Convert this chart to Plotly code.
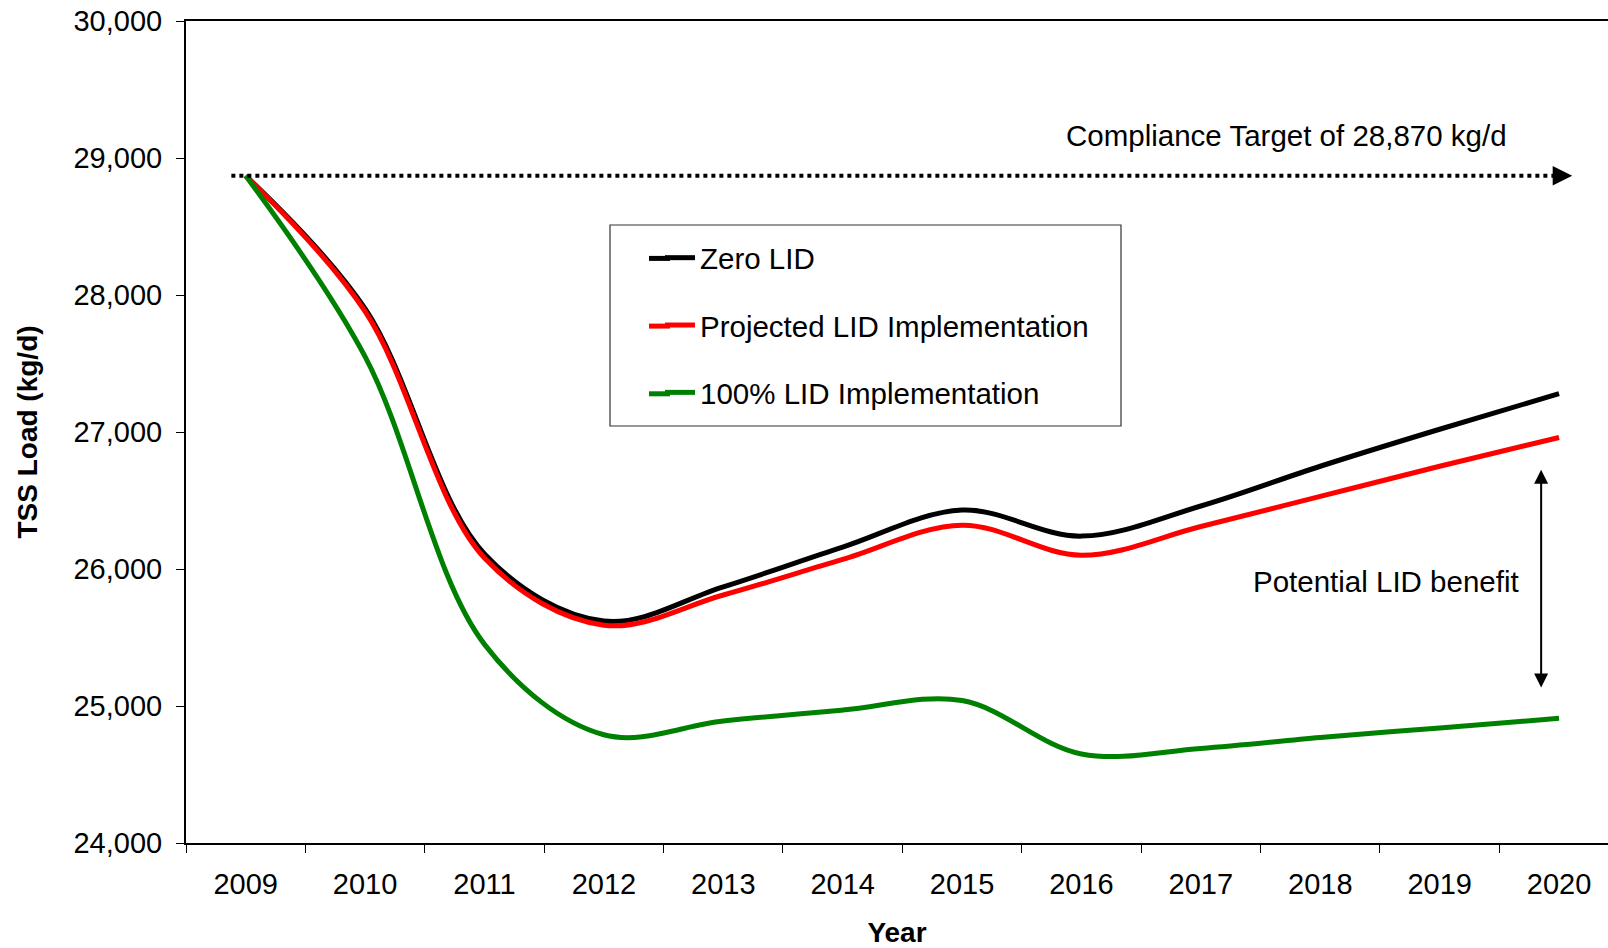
import plotly.graph_objects as go

# ---- data ----
years = [str(y) for y in range(2009, 2021)]
zero_lid = [28870, 27900, 26110, 25620, 25870, 26160, 26430, 26240, 26460, 26750, 27020, 27280]
projected_lid = [28870, 27880, 26080, 25590, 25810, 26070, 26320, 26100, 26310, 26530, 26750, 26960]
full_lid = [28870, 27550, 25450, 24790, 24890, 24970, 25040, 24650, 24690, 24770, 24840, 24910]
series_names = ["Zero LID", "Projected LID Implementation", "100% LID Implementation"]
series_colors = ["#000000", "#FF0000", "#008000"]
target = 28870
y_ticks = [24000, 25000, 26000, 27000, 28000, 29000, 30000]

FONT = "Liberation Sans, Arial, sans-serif"
TXT = 29.5
W, H = 1608, 948
L, T, B = 186, 21, 105
PW, PH = W - L, H - T - B


def px_x(sx):  # pixel x -> paper x
    return (sx - L) / PW


def px_y(sy):  # pixel y -> paper y
    return 1 - (sy - T) / PH


fig = go.Figure()

for name, vals, col in zip(series_names, [zero_lid, projected_lid, full_lid], series_colors):
    fig.add_trace(go.Scatter(
        x=years, y=vals, name=name, mode="lines",
        line=dict(color=col, width=5, shape="spline", smoothing=1),
        legendgroup=name,
    ))

# compliance target dotted line
fig.add_shape(type="line", xref="x", yref="y", x0=-0.12, x1=10.98, y0=target, y1=target,
              line=dict(color="black", width=4, dash="4px,4px"))
fig.add_annotation(x=11.11, y=target, ax=10.97, ay=target, axref="x", ayref="y",
                   xref="x", yref="y", showarrow=True, arrowhead=2, arrowsize=1.3,
                   arrowwidth=3, arrowcolor="black", text="")
fig.add_annotation(x=8.72, y=29164, xref="x", yref="y", text="Compliance Target of 28,870 kg/d",
                   showarrow=False, font=dict(family=FONT, size=TXT, color="black"))

# potential LID benefit
fig.add_annotation(x=10.85, y=26724, ax=10.85, ay=25124, axref="x", ayref="y",
                   xref="x", yref="y", showarrow=True, arrowhead=2, arrowside="end+start",
                   arrowsize=1.4, arrowwidth=2, arrowcolor="black", text="")
fig.add_annotation(x=9.55, y=25906, xref="x", yref="y", text="Potential LID benefit",
                   showarrow=False, font=dict(family=FONT, size=TXT, color="black"))

# legend box
fig.add_shape(type="rect", xref="paper", yref="paper",
              x0=px_x(610), x1=px_x(1121), y0=px_y(426), y1=px_y(225),
              line=dict(color="#333333", width=1.2), fillcolor="white", layer="below")
# longer legend line samples (extend plotly's short swatch to the left)
for col, ry in zip(series_colors, [258.4, 326.1, 393.8]):
    fig.add_shape(type="line", xref="paper", yref="paper",
                  x0=px_x(649), x1=px_x(670), y0=px_y(ry), y1=px_y(ry),
                  line=dict(color=col, width=5))

fig.update_layout(
    width=W, height=H,
    margin=dict(l=L, r=0, t=T, b=B, autoexpand=False),
    paper_bgcolor="white", plot_bgcolor="rgba(0,0,0,0)",
    font=dict(family=FONT, size=29, color="black"),
    showlegend=True,
    legend=dict(x=px_x(660), y=px_y(232), xanchor="left", yanchor="top",
                bgcolor="rgba(0,0,0,0)", borderwidth=0, tracegroupgap=26,
                font=dict(family=FONT, size=TXT, color="black"), itemwidth=30),
    xaxis=dict(type="category", range=[-0.5, 11.41], tickson="boundaries",
               ticks="outside", ticklen=8, tickwidth=1.2, tickcolor="black",
               showline=True, linewidth=2, linecolor="black", mirror=True,
               showgrid=False, zeroline=False, ticklabelstandoff=14, automargin=False,
               title=dict(text="<b>Year</b>", standoff=26,
                          font=dict(family=FONT, size=28, color="black"))),
    yaxis=dict(range=[24000, 30000], tickvals=y_ticks, tickformat=",d",
               ticks="outside", ticklen=8, tickwidth=1.2, tickcolor="black",
               showline=True, linewidth=2, linecolor="black", automargin=False,
               showgrid=False, zeroline=False, ticklabelstandoff=8,
               title=dict(text="<b>TSS Load (kg/d)</b>", standoff=28,
                          font=dict(family=FONT, size=28, color="black"))),
)

fig.write_html("out.html", config={"displayModeBar": False},
               post_script="document.body.style.margin='0';document.body.style.overflow='hidden';")
